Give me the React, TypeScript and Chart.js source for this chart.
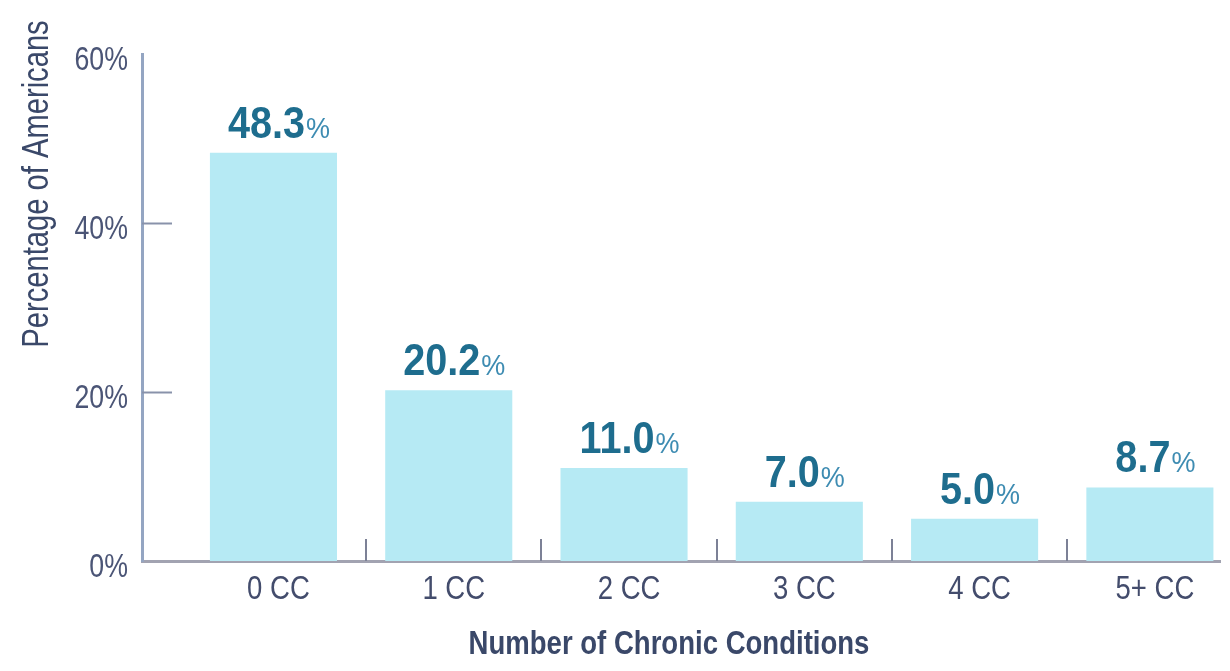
import React, { useEffect, useRef } from "react";
import { Chart, registerables } from "chart.js";

Chart.register(...registerables);

// Share of Americans by number of chronic conditions
const categories = ["0 CC", "1 CC", "2 CC", "3 CC", "4 CC", "5+ CC"];
const shares = [48.3, 20.2, 11.0, 7.0, 5.0, 8.7];
const yTickValues = [0, 20, 40, 60];
const innerYTicks = [20, 40];
const xTitle = "Number of Chronic Conditions";
const yTitle = "Percentage of Americans";

const FAMILY = '"Liberation Sans", Arial, sans-serif';
// the typeface is a condensed grotesque; squeeze the regular face horizontally
const SQUEEZE = 0.81;
const VALUE_SQUEEZE = 0.9;

const BAR_COLOR = "#b6eaf4";
const VALUE_COLOR = "#1e6d8e";
const PERCENT_COLOR = "#3e8cb2";
const TICK_TEXT = "#434c6c";
const Y_TICK_TEXT = "#4b5576";
const TITLE_TEXT = "#3a4869";

function squeezedText(
  ctx: CanvasRenderingContext2D,
  text: string,
  x: number,
  y: number,
  font: string,
  color: string,
  align: CanvasTextAlign,
  baseline: CanvasTextBaseline = "middle",
  squeeze: number = SQUEEZE
) {
  ctx.save();
  ctx.translate(x, y);
  ctx.scale(squeeze, 1);
  ctx.font = font;
  ctx.fillStyle = color;
  ctx.textAlign = align;
  ctx.textBaseline = baseline;
  ctx.fillText(text, 0, 0);
  ctx.restore();
}

function squeezedWidth(ctx: CanvasRenderingContext2D, text: string, font: string, squeeze: number) {
  ctx.save();
  ctx.font = font;
  const w = ctx.measureText(text).width * squeeze;
  ctx.restore();
  return w;
}

// Axis labels, inner tick marks, value labels above the bars and axis titles
const decorations = {
  id: "decorations",
  afterDatasetsDraw(chart: any) {
    const { ctx, chartArea } = chart;
    const x = chart.scales.x;
    const y = chart.scales.y;
    ctx.save();

    // category boundary marks rising from the x axis
    ctx.strokeStyle = "#7c8196";
    ctx.lineWidth = 2;
    for (let i = 0; i < categories.length - 1; i++) {
      const px = Math.round(x.getPixelForValue(i + 0.5)) + 5;
      ctx.beginPath();
      ctx.moveTo(px, chartArea.bottom);
      ctx.lineTo(px, chartArea.bottom - 22);
      ctx.stroke();
    }

    // short marks pointing right from the y axis
    ctx.strokeStyle = "#8992aa";
    for (const v of innerYTicks) {
      const py = Math.round(y.getPixelForValue(v)) + 0.5;
      ctx.beginPath();
      ctx.moveTo(chartArea.left, py);
      ctx.lineTo(chartArea.left + 30, py);
      ctx.stroke();
    }

    // category labels under the x axis
    x.ticks.forEach((t: any, i: number) => {
      const px = x.getPixelForTick(i) + 5;
      squeezedText(ctx, categories[t.value], px, chartArea.bottom + 29, `34px ${FAMILY}`, TICK_TEXT, "center");
    });

    // percentage labels left of the y axis
    y.ticks.forEach((t: any, i: number) => {
      const py = y.getPixelForTick(i) + 7;
      squeezedText(ctx, `${t.value}%`, chartArea.left - 14, py, `33px ${FAMILY}`, Y_TICK_TEXT, "right");
    });

    // value labels: bold number with a smaller percent sign
    const meta = chart.getDatasetMeta(0);
    meta.data.forEach((bar: any, i: number) => {
      const num = shares[i].toFixed(1);
      const numFont = `bold 44px ${FAMILY}`;
      const pctFont = `30px ${FAMILY}`;
      const w1 = squeezedWidth(ctx, num, numFont, VALUE_SQUEEZE);
      const w2 = squeezedWidth(ctx, "%", pctFont, VALUE_SQUEEZE);
      const start = bar.x + 5 - (w1 + w2) / 2;
      const base = bar.y - 15;
      squeezedText(ctx, num, start, base, numFont, VALUE_COLOR, "left", "alphabetic", VALUE_SQUEEZE);
      squeezedText(ctx, "%", start + w1 + 1, base, pctFont, PERCENT_COLOR, "left", "alphabetic", VALUE_SQUEEZE);
    });

    // x axis title
    squeezedText(ctx, xTitle, (chartArea.left + chartArea.right) / 2 - 12, 645, `bold 34px ${FAMILY}`, TITLE_TEXT, "center");

    // rotated y axis title
    ctx.save();
    ctx.translate(38, 184);
    ctx.rotate(-Math.PI / 2);
    squeezedText(ctx, yTitle, 0, 0, `36px ${FAMILY}`, TITLE_TEXT, "center");
    ctx.restore();

    ctx.restore();
  },
};

export default function App() {
  const canvasRef = useRef<HTMLCanvasElement | null>(null);

  useEffect(() => {
    const canvas = canvasRef.current;
    if (!canvas) return;
    const chart = new Chart(canvas, {
      type: "bar",
      data: {
        datasets: [
          {
            data: shares.map((v, i) => ({ x: i, y: v })),
            backgroundColor: BAR_COLOR,
            borderWidth: 0,
            categoryPercentage: 1,
            barPercentage: 0.725,
          },
        ],
      },
      options: {
        responsive: false,
        animation: false,
        events: [],
        layout: { padding: { left: 0, top: 54, right: 10, bottom: 0 } },
        plugins: {
          legend: { display: false },
          tooltip: { enabled: false },
        },
        scales: {
          x: {
            type: "linear",
            min: -0.75,
            max: 5.4,
            offset: false,
            grid: { display: false, drawTicks: false, offset: false },
            border: { display: true, color: "#a2a3b1", width: 3 },
            afterBuildTicks: (scale: any) => {
              scale.ticks = categories.map((_, i) => ({ value: i }));
            },
            afterFit: (scale: any) => {
              scale.height = 110;
            },
            ticks: { display: false, autoSkip: false },
          },
          y: {
            min: 0,
            max: 60,
            grid: { display: false, drawTicks: false },
            border: { display: true, color: "#94a5c2", width: 3 },
            afterBuildTicks: (scale: any) => {
              scale.ticks = yTickValues.map((v) => ({ value: v }));
            },
            afterFit: (scale: any) => {
              scale.width = 142;
            },
            ticks: { display: false },
          },
        },
      },
      plugins: [decorations],
    });
    return () => chart.destroy();
  }, []);

  return (
    <div style={{ position: "fixed", left: 0, top: 0, width: 1230, height: 671, background: "#ffffff" }}>
      <canvas ref={canvasRef} width={1230} height={671} />
    </div>
  );
}
